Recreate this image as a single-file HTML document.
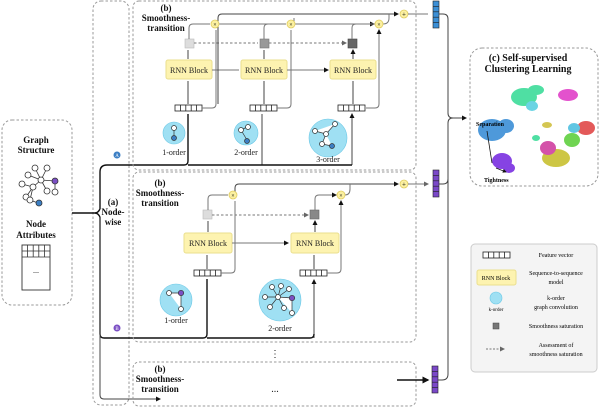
<!DOCTYPE html>
<html><head><meta charset="utf-8"><style>
html,body{margin:0;padding:0;background:#fff}
svg{display:block;font-family:"Liberation Serif",serif}
.d{fill:none;stroke:#999;stroke-width:1;stroke-dasharray:2.5,2}
.l{fill:none;stroke:#444;stroke-width:1}
.g{fill:none;stroke:#777;stroke-width:1}
.k{fill:none;stroke:#111;stroke-width:1.4}
.rnn{fill:#fdf3b0;stroke:#eadf8e;stroke-width:1}
.t{font-size:8px;fill:#222;text-anchor:middle}
.b{font-size:9px;font-weight:bold;fill:#111;text-anchor:middle}
.x{fill:#fbf0a0;stroke:#e0cc60;stroke-width:.8}
</style></head><body>
<svg width="600" height="407" viewBox="0 0 600 407">
<defs>
<marker id="a" markerWidth="5" markerHeight="5" refX="4" refY="2.5" orient="auto"><path d="M0,0L5,2.5L0,5z" fill="#111"/></marker>
<marker id="ag" markerWidth="5" markerHeight="5" refX="4" refY="2.5" orient="auto"><path d="M0,0L5,2.5L0,5z" fill="#666"/></marker>
<g id="fv"><rect x="0" y="0" width="27" height="6" fill="#fff" stroke="#222" stroke-width=".8"/><path d="M5.4,0v6M10.8,0v6M16.2,0v6M21.6,0v6" stroke="#222" stroke-width=".8"/></g>
</defs>

<rect x="2" y="120" width="70" height="185" rx="10" class="d"/>
<text x="36" y="143" class="b">Graph</text>
<text x="36" y="153" class="b">Structure</text>
<g stroke="#333" stroke-width=".8" fill="#fff">
<path d="M41,180L35,168M41,180L47,168M41,180L28,175M41,180L33,187M41,180L47,191M41,180L55,181M33,187L22,184M33,187L26,197M33,187L30,200M30,200L38,203M55,181L55,192"/>
<circle cx="35" cy="168" r="3"/><circle cx="47" cy="168" r="3"/><circle cx="28" cy="175" r="3"/><circle cx="41" cy="180" r="3"/><circle cx="33" cy="187" r="3"/><circle cx="47" cy="191" r="3"/><circle cx="22" cy="184" r="3"/><circle cx="26" cy="197" r="3"/><circle cx="30" cy="200" r="3"/><circle cx="55" cy="192" r="3"/>
<circle cx="55" cy="181" r="3" fill="#7b4fc4"/><circle cx="39" cy="203" r="3" fill="#3c7fc4"/>
</g>
<text x="36" y="227" class="b">Node</text>
<text x="36" y="238" class="b">Attributes</text>
<rect x="22" y="245" width="28" height="45" fill="#fff" stroke="#333" stroke-width=".9"/>
<path d="M22,251h28M22,257h28M27.6,245v12M33.2,245v12M38.8,245v12M44.4,245v12" stroke="#333" stroke-width=".8"/>
<text x="36" y="273" class="t">...</text>

<rect x="93" y="1" width="36" height="404" rx="8" class="d"/>
<text x="113" y="205" class="b">(a)</text>
<text x="113" y="215" class="b">Node-</text>
<text x="113" y="225" class="b">wise</text>
<path d="M72,213H95M95,213q3,0 5,-4M100,209V172q0,-7 7,-7H184q4,0 4,-4V114" class="k"/>
<path d="M100,217V334q0,4 4,4H203q4,0 4,-4V279" class="k"/>
<path d="M100,217V395q0,4 4,4H160" class="l" marker-end="url(#a)"/>
<path d="M95,213q3,0 5,4" class="k"/>
<circle cx="117" cy="155" r="3.5" fill="#3c7fc4"/><text x="117" y="157" style="font-size:5px;fill:#fff;text-anchor:middle">A</text>
<circle cx="117" cy="328" r="3.5" fill="#7b4fc4"/><text x="117" y="330" style="font-size:5px;fill:#fff;text-anchor:middle">B</text>

<rect x="133" y="1" width="283" height="169" rx="6" class="d"/>
<rect x="133" y="172" width="283" height="170" rx="6" class="d"/>
<rect x="133" y="362" width="283" height="44" rx="6" class="d"/>

<text x="166" y="11" class="b">(b)</text>
<text x="166" y="21" class="b">Smoothness-</text>
<text x="166" y="31" class="b">transition</text>
<rect x="166" y="60" width="46" height="19" rx="2" class="rnn"/><text x="189" y="73" class="t">RNN Block</text>
<rect x="241" y="60" width="46" height="19" rx="2" class="rnn"/><text x="264" y="73" class="t">RNN Block</text>
<rect x="330" y="60" width="46" height="19" rx="2" class="rnn"/><text x="353" y="73" class="t">RNN Block</text>
<use href="#fv" x="175" y="105"/><use href="#fv" x="250" y="105"/><use href="#fv" x="338" y="105"/>
<rect x="185" y="39" width="9" height="9" fill="#ddd" stroke="#bbb" stroke-width=".6"/>
<rect x="260" y="39" width="9" height="9" fill="#999" stroke="#777" stroke-width=".6"/>
<rect x="348" y="39" width="9" height="9" fill="#666" stroke="#444" stroke-width=".6"/>
<path d="M194,43H258M269,43H346" class="g" stroke-dasharray="2.5,2" marker-end="url(#ag)"/>
<path d="M188,104V81M264,104V81M353,104V81M188,59V50M264,59V50M353,59V50" class="l" marker-end="url(#a)"/>
<path d="M212,70H239M287,70H328" class="g" marker-end="url(#a)"/>
<path d="M189,39V28q0,-4 4,-4H210M264,39V28q0,-4 4,-4H286M352,39V28q0,-4 4,-4H374" class="g" marker-end="url(#a)"/>
<path d="M202,108H212q4,0 4,-4V30M277,108H287q4,0 4,-4V30M366,108H375q4,0 4,-4V30" class="g" marker-end="url(#a)"/>
<path d="M218,104V18q0,-4 4,-4H398" class="l" marker-end="url(#a)"/>
<path d="M219,24H286M295,24H374" class="g"/>
<path d="M294,24V18M383,24q6,0 6,-6V14" class="g"/>
<circle cx="215" cy="24" r="4" class="x"/><circle cx="291" cy="24" r="4" class="x"/><circle cx="379" cy="24" r="4" class="x"/>
<circle cx="404" cy="14" r="4" class="x"/>
<text x="215" y="26.5" style="font-size:6px;text-anchor:middle">×</text><text x="291" y="26.5" style="font-size:6px;text-anchor:middle">×</text><text x="379" y="26.5" style="font-size:6px;text-anchor:middle">×</text><text x="404" y="16.5" style="font-size:7px;text-anchor:middle">+</text>
<path d="M262,165V114M352,165V114" class="l" marker-end="url(#a)"/>
<path d="M188,165H352" class="k"/>
<circle cx="174" cy="133" r="11" fill="#9fe0f3" stroke="#6cc8e6" stroke-width=".6"/>
<g stroke="#333" stroke-width=".7" fill="#fff"><path d="M174,128V137"/><circle cx="174" cy="128" r="2.5"/><circle cx="174" cy="138" r="2.5" fill="#3c7fc4"/></g>
<text x="174" y="155" class="t">1-order</text>
<circle cx="246" cy="133" r="12" fill="#9fe0f3" stroke="#6cc8e6" stroke-width=".6"/>
<g stroke="#333" stroke-width=".7" fill="#fff"><path d="M241,130L247,127M241,130L247,140"/><circle cx="241" cy="130" r="2.5"/><circle cx="248" cy="127" r="2.5"/><circle cx="247" cy="141" r="2.5" fill="#3c7fc4"/></g>
<text x="246" y="155" class="t">2-order</text>
<circle cx="328" cy="138" r="19" fill="#9fe0f3" stroke="#6cc8e6" stroke-width=".6"/>
<g stroke="#333" stroke-width=".7" fill="#fff"><path d="M315,131L326,134L335,124M326,134L322,144L332,146"/><circle cx="315" cy="131" r="2.5"/><circle cx="326" cy="134" r="2.5"/><circle cx="335" cy="124" r="2.5"/><circle cx="322" cy="144" r="2.5"/><circle cx="332" cy="146" r="2.5" fill="#3c7fc4"/></g>
<text x="328" y="162" class="t">3-order</text>

<text x="160" y="186" class="b">(b)</text>
<text x="160" y="196" class="b">Smoothness-</text>
<text x="160" y="206" class="b">transition</text>
<rect x="184" y="233" width="48" height="20" rx="2" class="rnn"/><text x="208" y="246" class="t">RNN Block</text>
<rect x="291" y="233" width="48" height="20" rx="2" class="rnn"/><text x="315" y="246" class="t">RNN Block</text>
<use href="#fv" x="194" y="270"/><use href="#fv" x="300" y="270"/>
<rect x="203" y="210" width="9" height="9" fill="#ddd" stroke="#bbb" stroke-width=".6"/>
<rect x="310" y="210" width="9" height="9" fill="#888" stroke="#666" stroke-width=".6"/>
<path d="M212,215H308" class="g" stroke-dasharray="2.5,2" marker-end="url(#ag)"/>
<path d="M207,269V255M314,269V255M208,232V221M315,232V221" class="l" marker-end="url(#a)"/>
<path d="M232,243H288" class="g" marker-end="url(#a)"/>
<path d="M208,210V199q0,-4 4,-4H228M315,210V199q0,-4 4,-4H336" class="g" marker-end="url(#a)"/>
<path d="M221,273H231q4,0 4,-4V201M327,273H337q4,0 4,-4V201" class="g" marker-end="url(#a)"/>
<path d="M235,195V188q0,-4 4,-4H398" class="l" marker-end="url(#a)"/>
<path d="M345,195q5,0 5,-6V184" class="g"/>
<path d="M314,338V280" class="l" marker-end="url(#a)"/>
<path d="M207,338H310q4,0 4,-4" class="k"/>
<circle cx="233" cy="195" r="4" class="x"/><circle cx="341" cy="195" r="4" class="x"/><circle cx="404" cy="184" r="4" class="x"/>
<text x="233" y="197.5" style="font-size:6px;text-anchor:middle">×</text><text x="341" y="197.5" style="font-size:6px;text-anchor:middle">×</text><text x="404" y="186.5" style="font-size:7px;text-anchor:middle">+</text>
<circle cx="176" cy="300" r="16" fill="#9fe0f3" stroke="#6cc8e6" stroke-width=".6"/>
<g stroke="#333" stroke-width=".7" fill="#fff"><path d="M169,293H181L181,309"/><circle cx="169" cy="293" r="2.5"/><circle cx="181" cy="293" r="2.7" fill="#7b4fc4"/><circle cx="181" cy="309" r="2.5"/></g>
<text x="176" y="323" class="t">1-order</text>
<circle cx="280" cy="300" r="21" fill="#9fe0f3" stroke="#6cc8e6" stroke-width=".6"/>
<g stroke="#333" stroke-width=".7" fill="#fff"><path d="M278,297L272,287M278,297L281,286M278,297L289,289M278,297L265,297M278,297L270,307M278,297L284,308M278,297L292,298L292,313"/><circle cx="272" cy="287" r="2.5"/><circle cx="281" cy="286" r="2.5"/><circle cx="289" cy="289" r="2.5"/><circle cx="265" cy="297" r="2.5"/><circle cx="278" cy="297" r="2.5"/><circle cx="270" cy="307" r="2.5"/><circle cx="284" cy="308" r="2.5"/><circle cx="292" cy="313" r="2.5"/><circle cx="292" cy="298" r="2.7" fill="#7b4fc4"/></g>
<text x="280" y="331" class="t">2-order</text>
<text x="275" y="357" class="t" style="font-size:10px">⋮</text>

<text x="160" y="372" class="b">(b)</text>
<text x="160" y="382" class="b">Smoothness-</text>
<text x="160" y="392" class="b">transition</text>
<text x="275" y="392" class="t" style="font-size:10px">...</text>
<path d="M397,380H428" class="k" marker-end="url(#a)"/>

<path d="M408,14H428M408,184H428" class="g" marker-end="url(#ag)"/>
<g stroke="#222" stroke-width=".6">
<rect x="433" y="1" width="6" height="27" fill="#3b8fd6"/><path d="M433,6.4h6M433,11.8h6M433,17.2h6M433,22.6h6"/>
<rect x="433" y="170" width="6" height="27" fill="#7a48c8"/><path d="M433,175.4h6M433,180.8h6M433,186.2h6M433,191.6h6"/>
<rect x="432" y="366" width="6" height="27" fill="#7a48c8"/><path d="M432,371.4h6M432,376.8h6M432,382.2h6M432,387.6h6"/>
</g>
<path d="M439,14h4q5,0 5,5V113q0,5 5,5H466" class="l" marker-end="url(#a)"/>
<path d="M439,184h4q5,0 5,-5V123q0,-5 5,-5M438,380h4q6,0 6,-6V123" class="l"/>

<rect x="470" y="48" width="128" height="138" rx="12" class="d" stroke="#333"/>
<text x="528" y="61" class="b" style="font-size:10px">(c) Self-supervised</text>
<text x="528" y="72" class="b" style="font-size:10px">Clustering Learning</text>
<g opacity=".9">
<ellipse cx="524" cy="97" rx="13" ry="9" fill="#3ddc9a"/>
<ellipse cx="536" cy="90" rx="8" ry="5" fill="#3ddc9a"/>
<ellipse cx="532" cy="106" rx="6" ry="5" fill="#5ad0e0"/>
<ellipse cx="568" cy="95" rx="10" ry="6" fill="#e040c8"/>
<ellipse cx="492" cy="130" rx="14" ry="11" fill="#3b8fd6"/>
<ellipse cx="506" cy="126" rx="8" ry="7" fill="#3b8fd6"/>
<ellipse cx="502" cy="161" rx="10" ry="8" fill="#7a2fe0"/>
<ellipse cx="509" cy="168" rx="6" ry="5" fill="#7a2fe0"/>
<ellipse cx="586" cy="128" rx="9" ry="7" fill="#e04848"/>
<ellipse cx="556" cy="158" rx="14" ry="9" fill="#c8c030"/>
<ellipse cx="548" cy="148" rx="8" ry="7" fill="#d040a0"/>
<ellipse cx="572" cy="140" rx="8" ry="7" fill="#60d040"/>
<ellipse cx="574" cy="128" rx="6" ry="5" fill="#50c0e0"/>
<ellipse cx="547" cy="125" rx="5" ry="3" fill="#d0c040"/>
<ellipse cx="536" cy="138" rx="4" ry="3" fill="#3ddc9a"/>
</g>
<text x="476" y="126" style="font-size:6px;font-weight:bold">Separation</text>
<text x="484" y="182" style="font-size:6px;font-weight:bold">Tightness</text>
<path d="M487,131L492,163M496,168L506,172" stroke="#111" stroke-width=".8" marker-end="url(#a)"/>

<rect x="471" y="244" width="126" height="128" rx="4" fill="#f4f4f4" stroke="#ccc"/>
<use href="#fv" x="483" y="252"/>
<text x="556" y="257" style="font-size:6px;text-anchor:middle">Feature vector</text>
<rect x="477" y="270" width="39" height="15" rx="2" class="rnn"/>
<text x="496" y="280" style="font-size:6px;text-anchor:middle">RNN Block</text>
<text x="556" y="275" style="font-size:6px;text-anchor:middle">Sequence-to-sequence</text>
<text x="556" y="284" style="font-size:6px;text-anchor:middle">model</text>
<circle cx="496" cy="298" r="6" fill="#9fe0f3" stroke="#6cc8e6" stroke-width=".6"/>
<text x="496" y="311" style="font-size:5px;text-anchor:middle">k-order</text>
<text x="556" y="300" style="font-size:6px;text-anchor:middle">k-order</text>
<text x="556" y="309" style="font-size:6px;text-anchor:middle">graph convolution</text>
<rect x="493" y="323" width="6" height="6" fill="#777" stroke="#444" stroke-width=".5"/>
<text x="556" y="328" style="font-size:6px;text-anchor:middle">Smoothness saturation</text>
<path d="M486,349H504" class="g" stroke-dasharray="2,1.5" marker-end="url(#ag)"/>
<text x="556" y="347" style="font-size:6px;text-anchor:middle">Assessment of</text>
<text x="556" y="356" style="font-size:6px;text-anchor:middle">smoothness saturation</text>
</svg>
</body></html>
